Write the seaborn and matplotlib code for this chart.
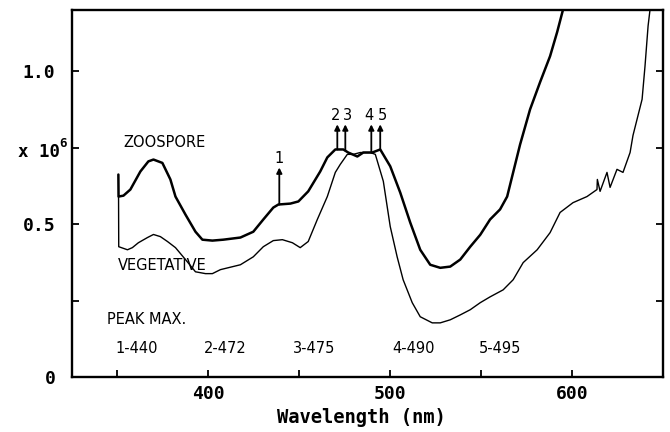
import numpy as np
import pandas as pd
import matplotlib
matplotlib.use("Agg")
import matplotlib.pyplot as plt
import seaborn as sns

# ---- data ----
zoo_nm = [350.5, 350.6, 353.3, 357.1, 362.6, 367.0, 369.8, 374.7, 379.1, 381.9,
          387.4, 392.9, 396.7, 402.2, 408.2, 417.6, 424.7, 430.2, 435.7, 438.5,
          445.1, 449.5, 454.9, 461.5, 465.4, 469.8, 474.2, 476.9, 481.9, 485.2,
          490.1, 494.5, 500.0, 505.5, 511.0, 516.5, 522.0, 527.5, 533.0, 538.5,
          544.0, 549.5, 554.9, 560.4, 564.3, 567.6, 571.4, 576.9, 582.4, 587.9,
          591.8, 595.1, 596.5]
zoo_val = [0.662, 0.590, 0.593, 0.613, 0.672, 0.705, 0.711, 0.700, 0.646, 0.590,
           0.531, 0.475, 0.449, 0.446, 0.449, 0.456, 0.475, 0.515, 0.554, 0.564,
           0.567, 0.574, 0.607, 0.672, 0.718, 0.744, 0.744, 0.734, 0.721, 0.734,
           0.734, 0.744, 0.689, 0.603, 0.505, 0.416, 0.367, 0.357, 0.361, 0.384,
           0.426, 0.465, 0.515, 0.548, 0.590, 0.669, 0.760, 0.875, 0.964, 1.049,
           1.128, 1.203, 1.250]

veg_nm = [350.6, 350.7, 355.5, 358.2, 361.5, 366.5, 369.8, 373.6, 377.5, 381.9,
          387.4, 392.9, 398.4, 402.2, 406.6, 417.6, 424.7, 430.2, 435.7, 440.7,
          446.2, 450.5, 454.9, 459.9, 465.4, 469.8, 472.5, 476.4, 479.7, 483.5,
          489.0, 491.8, 496.2, 500.0, 503.8, 507.1, 512.1, 516.5, 523.1, 527.5,
          533.0, 538.5, 544.0, 549.5, 554.9, 562.1, 567.6, 573.1, 580.8, 587.9,
          593.4, 600.5, 608.2, 613.7, 613.9, 615.4, 619.2, 620.9, 624.7, 628.0,
          631.9, 633.5, 638.5, 640.1, 641.8, 642.9, 643.5]
veg_val = [0.590, 0.426, 0.416, 0.423, 0.439, 0.456, 0.466, 0.459, 0.443, 0.423,
           0.384, 0.344, 0.338, 0.338, 0.351, 0.367, 0.393, 0.426, 0.446, 0.449,
           0.439, 0.423, 0.443, 0.515, 0.590, 0.669, 0.695, 0.728, 0.728, 0.734,
           0.734, 0.728, 0.640, 0.492, 0.393, 0.318, 0.243, 0.197, 0.177, 0.177,
           0.187, 0.203, 0.220, 0.243, 0.262, 0.285, 0.318, 0.374, 0.416, 0.472,
           0.538, 0.570, 0.590, 0.613, 0.646, 0.607, 0.669, 0.620, 0.679, 0.669,
           0.734, 0.790, 0.908, 1.016, 1.148, 1.203, 1.250]

peak_ids = ["1", "2", "3", "4", "5"]
peak_labels = ["1-440", "2-472", "3-475", "4-490", "5-495"]
arrow_nm = [439.0, 470.9, 475.3, 489.6, 494.5]
arrow_base = [0.564, 0.744, 0.740, 0.734, 0.744]
arrow_top = [0.685, 0.826, 0.826, 0.826, 0.826]

x_major = [400, 500, 600]
x_minor = [350, 450, 550, 650]
y_major = [0, 0.5, 1.0]
y_major_labels = ["0", "0.5", "1.0"]
y_minor = [0.25, 0.75]

# ---- style ----
sns.set_theme(style="ticks")
plt.rcParams['font.family'] = ['DejaVu Sans']

fig = plt.figure(figsize=(6.7, 4.32), dpi=100)
ax = fig.add_axes([72 / 670, 55 / 432, 591 / 670, 367 / 432])

df_zoo = pd.DataFrame({"nm": zoo_nm, "val": zoo_val})
df_veg = pd.DataFrame({"nm": veg_nm, "val": veg_val})
sns.lineplot(data=df_zoo, x="nm", y="val", sort=False, estimator=None,
             color="black", linewidth=1.8, ax=ax)
sns.lineplot(data=df_veg, x="nm", y="val", sort=False, estimator=None,
             color="black", linewidth=1.0, ax=ax)

ax.set_xlim(325, 650)
ax.set_ylim(0, 1.2)

mono_bold = dict(family="DejaVu Sans Mono", weight="bold", size=13, color="black")
ax.set_xticks(x_major)
ax.set_xticklabels([str(v) for v in x_major], fontdict=mono_bold)
ax.set_xticks(x_minor, minor=True)
ax.set_yticks(y_major)
ax.set_yticklabels(y_major_labels, fontdict=mono_bold)
ax.set_yticks(y_minor, minor=True)
ax.tick_params(which="both", direction="in", length=5, width=1.3,
               right=True, top=False, colors="black")
ax.tick_params(axis="y", pad=12)
ax.tick_params(axis="x", pad=6)

for s in ax.spines.values():
    s.set_visible(True)
    s.set_linewidth(1.7)
    s.set_color("black")

ax.set_ylabel("")
ax.set_xlabel("Wavelength (nm)", fontdict=dict(family="DejaVu Sans Mono",
                                                weight="bold", size=13.5,
                                                color="black"))
ax.xaxis.set_label_coords(0.49, -0.085)

# y "label" x 10^6
ytr = ax.get_yaxis_transform()
ax.text(-0.092, 0.735, "x 10", transform=ytr, ha="left", va="center",
        family="DejaVu Sans Mono", weight="bold", size=12.5, color="black")
ax.text(-0.022, 0.765, "6", transform=ytr, ha="left", va="center",
        family="DejaVu Sans Mono", weight="bold", size=9, color="black")

# arrows marking the peaks
label_dx = [0.0, -1.2, 1.2, -1.2, 1.2]
for pid, xn, b, t, dx in zip(peak_ids, arrow_nm, arrow_base, arrow_top, label_dx):
    ax.annotate("", xy=(xn, t), xytext=(xn, b),
                arrowprops=dict(arrowstyle="-|>", color="black", lw=1.3,
                                mutation_scale=8, shrinkA=0, shrinkB=0))
    ax.text(xn + dx, t + 0.028, pid, ha="center", va="center",
            family="DejaVu Sans", size=10.5, color="black")

txt = dict(family="DejaVu Sans", size=10.5, color="black")
ax.text(353.3, 0.767, "ZOOSPORE", ha="left", va="center", **txt)
ax.text(350.5, 0.364, "VEGETATIVE", ha="left", va="center", **txt)
ax.text(344.5, 0.187, "PEAK MAX.", ha="left", va="center", **txt)
label_x = [348.9, 397.3, 446.7, 501.1, 548.9]
for lx, lab in zip(label_x, peak_labels):
    ax.text(lx, 0.093, lab, ha="left", va="center", **txt)

fig.savefig("out.png", dpi=100, facecolor="white")
